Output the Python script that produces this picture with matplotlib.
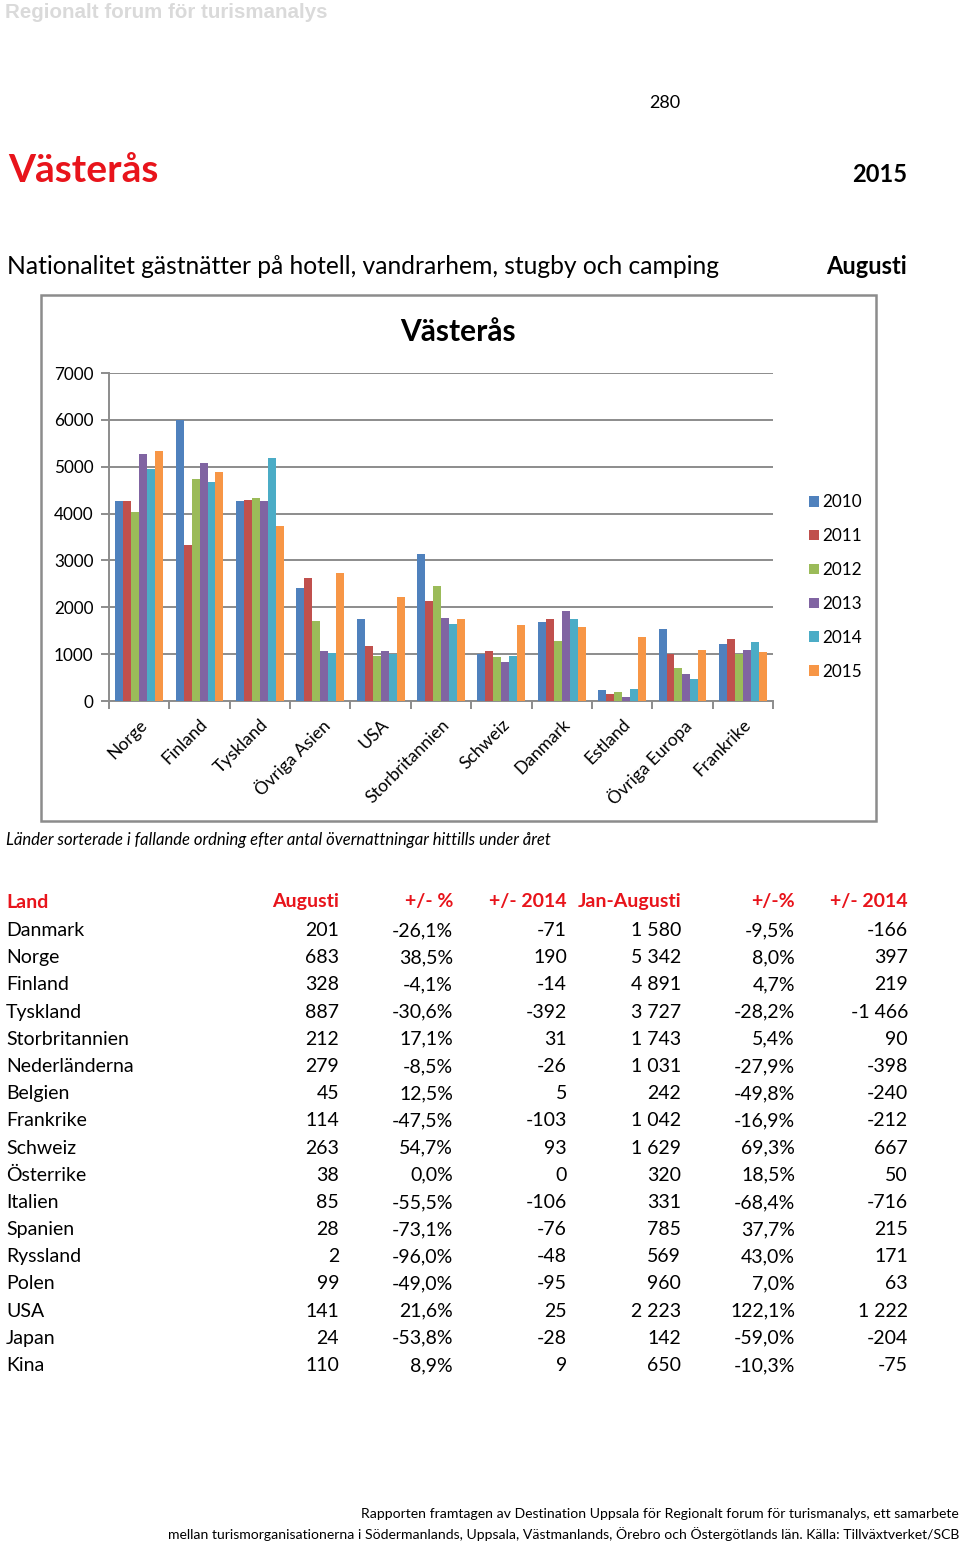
import matplotlib
matplotlib.use("Agg")
import matplotlib.pyplot as plt
import numpy as np
from matplotlib.patches import Rectangle

plt.rcParams['font.family'] = ['Lato', 'DejaVu Sans']

# ---------------- data ----------------
countries = ["Norge", "Finland", "Tyskland", "Övriga Asien", "USA", "Storbritannien",
             "Schweiz", "Danmark", "Estland", "Övriga Europa", "Frankrike"]
years = ["2010", "2011", "2012", "2013", "2014", "2015"]
v2010 = [4270, 6000, 4270, 2413, 1751, 3146, 1004, 1694, 242, 1530, 1210]
v2011 = [4270, 3324, 4299, 2633, 1181, 2142, 1068, 1744, 149, 1004, 1331]
v2012 = [4043, 4747, 4335, 1708, 968, 2448, 932, 1274, 199, 697, 996]
v2013 = [5267, 5075, 4263, 1060, 1068, 1772, 833, 1915, 85, 569, 1082]
v2014 = [4945, 4672, 5193, 1018, 1001, 1653, 962, 1746, 256, 477, 1254]
v2015 = [5342, 4891, 3727, 2726, 2223, 1743, 1629, 1580, 1374, 1089, 1042]
series = [v2010, v2011, v2012, v2013, v2014, v2015]
colors = ["#4F81BD", "#C0504D", "#9BBB59", "#8064A2", "#4BACC6", "#F79646"]
yticks = [0, 1000, 2000, 3000, 4000, 5000, 6000, 7000]

table_header = ["Land", "Augusti", "+/- %", "+/- 2014", "Jan-Augusti", "+/-%", "+/- 2014"]
t_land = ["Danmark", "Norge", "Finland", "Tyskland", "Storbritannien", "Nederländerna",
          "Belgien", "Frankrike", "Schweiz", "Österrike", "Italien", "Spanien", "Ryssland",
          "Polen", "USA", "Japan", "Kina"]
t_aug = ["201", "683", "328", "887", "212", "279", "45", "114", "263", "38", "85", "28",
         "2", "99", "141", "24", "110"]
t_aug_pct = ["-26,1%", "38,5%", "-4,1%", "-30,6%", "17,1%", "-8,5%", "12,5%", "-47,5%",
             "54,7%", "0,0%", "-55,5%", "-73,1%", "-96,0%", "-49,0%", "21,6%", "-53,8%", "8,9%"]
t_aug_diff = ["-71", "190", "-14", "-392", "31", "-26", "5", "-103", "93", "0", "-106",
              "-76", "-48", "-95", "25", "-28", "9"]
t_ytd = ["1 580", "5 342", "4 891", "3 727", "1 743", "1 031", "242", "1 042", "1 629",
         "320", "331", "785", "569", "960", "2 223", "142", "650"]
t_ytd_pct = ["-9,5%", "8,0%", "4,7%", "-28,2%", "5,4%", "-27,9%", "-49,8%", "-16,9%",
             "69,3%", "18,5%", "-68,4%", "37,7%", "43,0%", "7,0%", "122,1%", "-59,0%", "-10,3%"]
t_ytd_diff = ["-166", "397", "219", "-1 466", "90", "-398", "-240", "-212", "667", "50",
              "-716", "215", "171", "63", "1 222", "-204", "-75"]

# ---------------- figure ----------------
W, H = 960, 1543
fig = plt.figure(figsize=(W / 100, H / 100), dpi=100)
fig.patch.set_facecolor("white")

def fx(x):
    return x / W

def fy(y):
    return 1 - y / H

RED = "#E8141B"
GREY = "#8C8C8C"

fig.text(fx(5), fy(13), "Regionalt forum för turismanalys", family="Liberation Sans",
         fontweight="bold", fontsize=14.8, color="#DADADA", ha="left", va="center")
fig.text(fx(665), fy(103), "280", fontsize=13, ha="center", va="center", color="black")
fig.text(fx(8), fy(170), "Västerås", fontsize=28, fontweight="bold", color=RED,
         ha="left", va="center")
fig.text(fx(907), fy(174), "2015", fontsize=17, fontweight="bold", ha="right", va="center")
fig.text(fx(7), fy(267), "Nationalitet gästnätter på hotell, vandrarhem, stugby och camping",
         fontsize=17.7, ha="left", va="center")
fig.text(fx(907), fy(267), "Augusti", fontsize=17, fontweight="bold", ha="right", va="center")

# chart border
fig.patches.append(Rectangle((fx(41), fy(821)), fx(876) - fx(41), fy(295) - fy(821),
                             transform=fig.transFigure, fill=False, edgecolor=GREY,
                             linewidth=1.8, zorder=0))
fig.text(fx(458), fy(332), "Västerås", fontsize=21.5, fontweight="bold", ha="center", va="center")

# axes
ax = fig.add_axes([fx(109), fy(701), fx(773) - fx(109), (701 - 373) / H])
n = len(countries)
x = np.arange(n)
w = 0.132
for j, (vals, c, yr) in enumerate(zip(series, colors, years)):
    ax.bar(x + (j - 2.5) * w, vals, width=w, color=c, label=yr, zorder=3, linewidth=0)

ax.set_xlim(-0.5, n - 0.5)
ax.set_ylim(0, 7000)
ax.set_yticks(yticks)
ax.set_yticklabels([str(t) for t in yticks], fontsize=12.3)
ax.yaxis.grid(True, color=GREY, linewidth=1.4, zorder=0)
ax.set_axisbelow(True)
for s in ["top", "right"]:
    ax.spines[s].set_visible(False)
for s in ["left", "bottom"]:
    ax.spines[s].set_color(GREY)
    ax.spines[s].set_linewidth(1.4)
ax.tick_params(axis="y", length=6, color=GREY, width=1.4, pad=5)
ax.set_xticks(x)
ax.set_xticklabels(countries, rotation=45, ha="right", rotation_mode="anchor", fontsize=12.6)
ax.tick_params(axis="x", which="major", length=0, pad=11)
ax.set_xticks(np.arange(-0.5, n, 1.0), minor=True)
ax.tick_params(axis="x", which="minor", length=6, color=GREY, width=1.4)

handles, labels = ax.get_legend_handles_labels()
fig.legend(handles, labels, loc="center left", bbox_to_anchor=(fx(802), fy(587)),
           frameon=False, fontsize=12.3, handlelength=0.6, handleheight=0.6,
           handletextpad=0.2, labelspacing=1.05, borderaxespad=0)

fig.text(fx(6), fy(840),
         "Länder sorterade i fallande ordning efter antal övernattningar hittills under året",
         fontsize=12, style="italic", ha="left", va="center")

# table
col_x = [6, 339, 453, 567, 681, 795, 908]
hdr_y = 902
for k, h in enumerate(table_header):
    fig.text(fx(col_x[k]), fy(hdr_y), h, fontsize=14, fontweight="bold", color=RED,
             ha="left" if k == 0 else "right", va="center")
cols = [t_land, t_aug, t_aug_pct, t_aug_diff, t_ytd, t_ytd_pct, t_ytd_diff]
step = 27.19
for r in range(len(t_land)):
    yy = 930.5 + r * step
    for k, col in enumerate(cols):
        fig.text(fx(col_x[k]), fy(yy), col[r], fontsize=14,
                 ha="left" if k == 0 else "right", va="center")

fig.text(fx(959), fy(1514),
         "Rapporten framtagen av Destination Uppsala för Regionalt forum för turismanalys, ett samarbete",
         fontsize=10.05, ha="right", va="center")
fig.text(fx(959), fy(1534),
         "mellan turismorganisationerna i Södermanlands, Uppsala, Västmanlands, Örebro och Östergötlands län. Källa: Tillväxtverket/SCB",
         fontsize=10.05, ha="right", va="center")

fig.savefig("out.png", dpi=100)
